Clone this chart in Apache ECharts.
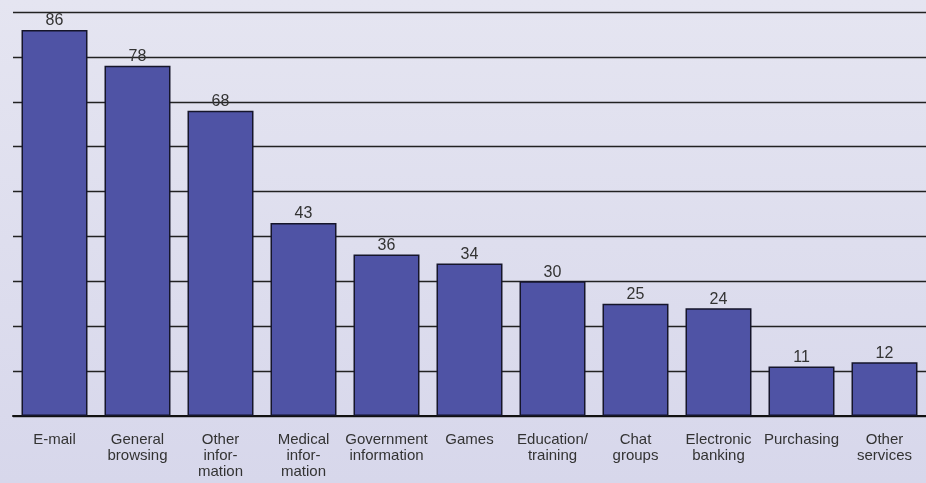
<!DOCTYPE html>
<html><head><meta charset="utf-8">
<script src="https://cdn.jsdelivr.net/npm/echarts@6/dist/echarts.min.js"></script>
<style>html,body{margin:0;padding:0;}#c{width:926px;height:483px;}</style>
</head><body><div id="c"></div>
<script>
var categories = ["E-mail", "General\nbrowsing", "Other\ninfor-\nmation", "Medical\ninfor-\nmation", "Government\ninformation", "Games", "Education/\ntraining", "Chat\ngroups", "Electronic\nbanking", "Purchasing", "Other\nservices"];
var values = [86, 78, 68, 43, 36, 34, 30, 25, 24, 11, 12];
var yMin = 0, yMax = 90, yStep = 10;

var chart = echarts.init(document.getElementById('c'));
chart.setOption({
  backgroundColor: new echarts.graphic.LinearGradient(0, 0, 0, 1, [
    {offset: 0, color: '#e5e5f1'}, {offset: 1, color: '#d7d7eb'}]),
  animation: false,
  grid: {left: 13, right: -1, top: 12, bottom: 67, containLabel: false},
  xAxis: {
    type: 'category', data: categories,
    axisLine: {lineStyle: {color: '#111', width: 2}},
    axisTick: {show: false},
    axisLabel: {interval: 0, color: '#333', fontFamily: 'Liberation Sans Narrow, Arial Narrow, sans-serif', fontSize: 15, lineHeight: 16, margin: 16}
  },
  yAxis: {
    type: 'value', min: yMin, max: yMax, interval: yStep,
    axisLine: {show: false}, axisTick: {show: false}, axisLabel: {show: false},
    splitLine: {lineStyle: {color: '#222', width: 1.3}}
  },
  series: [{
    type: 'bar', data: values, barCategoryGap: '20.5%',
    itemStyle: {color: '#4f53a5', borderColor: '#15152a', borderWidth: 1.5},
    label: {show: true, position: 'top', distance: 1, color: '#333', fontFamily: 'Liberation Sans Narrow, Arial Narrow, sans-serif', fontSize: 16}
  }]
});
</script></body></html>
